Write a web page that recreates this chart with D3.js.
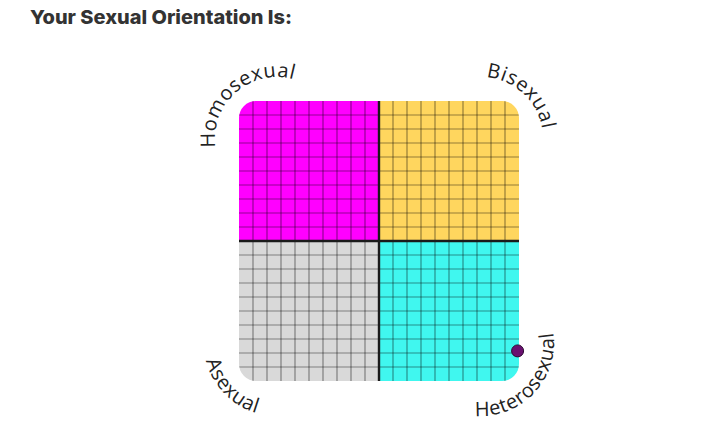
<!DOCTYPE html>
<meta charset="utf-8">
<style>
body{margin:0;background:#fff;}
.title{font-family:Inter,"Open Sans",sans-serif;font-weight:800;fill:#333;}
.corner{font-family:"Open Sans",sans-serif;font-size:20px;letter-spacing:0.6px;fill:#222;}
</style>
<body>
<script src="https://cdn.jsdelivr.net/npm/d3@7"></script>
<script>
// quadrants: top-left, top-right, bottom-left, bottom-right
var quadNames = ["Homosexual", "Bisexual", "Asexual", "Heterosexual"];
var quadColors = ["#ff00ff", "#ffd65e", "#d9d9d9", "#40f7ef"];
var quadX = [[-10, 0], [0, 10], [-10, 0], [0, 10]];
var quadY = [[0, 10], [0, 10], [-10, 0], [-10, 0]];
var axisMin = -10, axisMax = 10;
// the result point (other-sex attraction, same-sex attraction)
var resultX = [9.9];
var resultY = [-7.85];

var W = 710, H = 427;
var svg = d3.select("body").append("svg").attr("width", W).attr("height", H);

svg.append("text").attr("class", "title")
  .attr("x", 30).attr("y", 24)
  .attr("font-size", 19)
  .attr("textLength", 262).attr("lengthAdjust", "spacingAndGlyphs")
  .text("Your Sexual Orientation Is:");

var x = d3.scaleLinear().domain([axisMin, axisMax]).range([239, 519]);
var y = d3.scaleLinear().domain([axisMin, axisMax]).range([381, 101]);

var defs = svg.append("defs");
defs.append("clipPath").attr("id", "box")
  .append("rect")
  .attr("x", x(axisMin)).attr("y", y(axisMax))
  .attr("width", x(axisMax) - x(axisMin)).attr("height", y(axisMin) - y(axisMax))
  .attr("rx", 17).attr("ry", 17);

var g = svg.append("g").attr("clip-path", "url(#box)");

g.selectAll("rect.quad").data(quadNames).join("rect")
  .attr("class", "quad")
  .attr("x", (d, i) => x(quadX[i][0]))
  .attr("y", (d, i) => y(quadY[i][1]))
  .attr("width", (d, i) => x(quadX[i][1]) - x(quadX[i][0]))
  .attr("height", (d, i) => y(quadY[i][0]) - y(quadY[i][1]))
  .attr("fill", (d, i) => quadColors[i]);

var inner = d3.range(axisMin + 1, axisMax).filter(v => v !== 0);

g.selectAll("line.v").data(inner).join("line")
  .attr("class", "v")
  .attr("x1", d => x(d)).attr("x2", d => x(d))
  .attr("y1", y(axisMax)).attr("y2", y(axisMin))
  .attr("stroke", "#000").attr("stroke-opacity", 0.42).attr("stroke-width", 1.2);

g.selectAll("line.h").data(inner).join("line")
  .attr("class", "h")
  .attr("y1", d => y(d)).attr("y2", d => y(d))
  .attr("x1", x(axisMin)).attr("x2", x(axisMax))
  .attr("stroke", "#000").attr("stroke-opacity", 0.42).attr("stroke-width", 1.2);

// centre axes
g.append("line")
  .attr("x1", x(0)).attr("x2", x(0)).attr("y1", y(axisMax)).attr("y2", y(axisMin))
  .attr("stroke", "#1a1a1a").attr("stroke-width", 2.4);
g.append("line")
  .attr("y1", y(0)).attr("y2", y(0)).attr("x1", x(axisMin)).attr("x2", x(axisMax))
  .attr("stroke", "#1a1a1a").attr("stroke-width", 2.4);

// curved corner labels
var inset = 38;
var corners = [
  {cx: x(axisMin) + inset, cy: y(axisMax) + inset, r: 62, mid: 229, top: true},
  {cx: x(axisMax) - inset, cy: y(axisMax) + inset, r: 62, mid: 313, top: true},
  {cx: x(axisMin) + inset, cy: y(axisMin) - inset, r: 73, mid: 136, top: false},
  {cx: x(axisMax) - inset, cy: y(axisMin) - inset, r: 73, mid: 43, top: false}
];

function arcPath(c) {
  var span = 85, rad = Math.PI / 180;
  var a0 = c.top ? c.mid - span : c.mid + span;
  var a1 = c.top ? c.mid + span : c.mid - span;
  var p0 = [c.cx + c.r * Math.cos(a0 * rad), c.cy + c.r * Math.sin(a0 * rad)];
  var p1 = [c.cx + c.r * Math.cos(a1 * rad), c.cy + c.r * Math.sin(a1 * rad)];
  return "M" + p0 + " A" + c.r + "," + c.r + " 0 0," + (c.top ? 1 : 0) + " " + p1;
}

corners.forEach(function(c, i) {
  defs.append("path").attr("id", "arc" + i).attr("d", arcPath(c));
  svg.append("text").attr("class", "corner")
    .append("textPath")
    .attr("href", "#arc" + i)
    .attr("startOffset", "50%")
    .attr("text-anchor", "middle")
    .text(quadNames[i]);
});

svg.selectAll("circle.pt").data(resultX).join("circle")
  .attr("class", "pt")
  .attr("cx", (d) => x(d))
  .attr("cy", (d, i) => y(resultY[i]))
  .attr("r", 6)
  .attr("fill", "#6a1070")
  .attr("stroke", "#2a0830").attr("stroke-width", 1);
</script>
</body>
